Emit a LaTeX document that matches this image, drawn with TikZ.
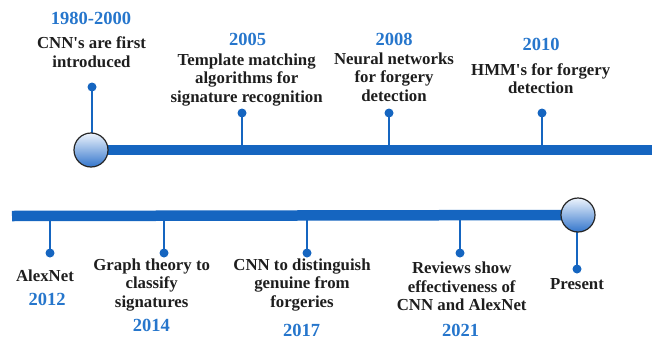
\documentclass[tikz,border=0pt]{standalone}
\usepackage{fontspec}
\setmainfont{Liberation Serif}
\definecolor{barblue}{RGB}{21,101,192}
\definecolor{yearblue}{RGB}{38,118,204}
\definecolor{txtcol}{RGB}{30,30,30}
\definecolor{balltop}{RGB}{236,243,252}
\definecolor{ballbot}{RGB}{52,118,204}
\newcommand{\apos}{\textquotesingle}
\tikzset{
  bar/.style={line width=10.5pt, barblue, line cap=butt},
  stem/.style={line width=2.6pt, barblue},
  dotnode/.style={circle, fill=barblue, inner sep=0pt, minimum size=9pt},
  ball/.style={circle, draw=black!85, line width=1.2pt, top color=balltop, bottom color=ballbot, minimum size=34pt, inner sep=0pt},
  yeartxt/.style={anchor=base, inner sep=0pt, text=yearblue, font=\fontsize{18.5}{22}\selectfont\bfseries},
  evtxt/.style={anchor=north, inner sep=0pt, align=center, text=txtcol, font=\fontsize{16.8}{18.5}\selectfont\bfseries}
}
\begin{document}
\begin{tikzpicture}[x=1pt,y=-1pt]
\useasboundingbox (0,0) rectangle (652,340);
% coordinates
\coordinate (topend) at (652,150);
\coordinate (botstart) at (12,216);
\coordinate (p1) at (91,150);
\coordinate (p2) at (578,215);
% bars
\draw[bar] (p1) -- (topend);
\draw[bar] (botstart) -- (p2);
% dots
\node[dotnode] (d1) at (92,87) {};
\node[dotnode] (d2) at (242,113) {};
\node[dotnode] (d3) at (389,113) {};
\node[dotnode] (d4) at (542,113) {};
\node[dotnode] (d5) at (50,253) {};
\node[dotnode] (d6) at (164,253) {};
\node[dotnode] (d7) at (307,253) {};
\node[dotnode] (d8) at (460,253) {};
\node[dotnode] (d9) at (577,269) {};
% stems
\draw[stem] (d1.center) -- (d1 |- p1);
\draw[stem] (d2.center) -- (d2 |- topend);
\draw[stem] (d3.center) -- (d3 |- topend);
\draw[stem] (d4.center) -- (d4 |- topend);
\draw[stem] (d5.center) -- (d5 |- botstart);
\draw[stem] (d6.center) -- (d6 |- botstart);
\draw[stem] (d7.center) -- (d7 |- botstart);
\draw[stem] (d8.center) -- (d8 |- botstart);
\draw[stem] (d9.center) -- (d9 |- p2);
% balls on top
\node[ball] (c1) at (p1) {};
\node[ball] (c2) at (p2) {};
% years
\node[yeartxt] (y1) at (91,24) {1980-2000};
\node[yeartxt] (y2) at (247.5,45) {2005};
\node[yeartxt] (y3) at (394,45.7) {2008};
\node[yeartxt] (y4) at (541,50.7) {2010};
\node[yeartxt] (y5) at (47,305) {2012};
\node[yeartxt] (y6) at (151.3,331.7) {2014};
\node[yeartxt] (y7) at (301.7,336.5) {2017};
\node[yeartxt] (y8) at (460.7,336.5) {2021};
% event texts (north = first baseline - 12.95)
\node[evtxt] (t1) at (91.5,35.35) {\strut CNN\apos s are first\\introduced};
\node[evtxt] (t2) at (246.7,52.05) {\strut Template matching\\algorithms for\\signature recognition};
\node[evtxt] (t3) at (394,51.05) {\strut Neural networks\\for forgery\\detection};
\node[evtxt] (t4) at (540.7,62.05) {\strut HMM\apos s for forgery\\detection};
\node[evtxt] (t5) at (45,268.75) {\strut AlexNet};
\node[evtxt] (t6) at (151.7,257.05) {\strut Graph theory to\\classify\\signatures};
\node[evtxt] (t7) at (302,257.05) {\strut CNN to distinguish\\genuine from\\forgeries};
\node[evtxt] (t8) at (461.7,260.35) {\strut Reviews show\\effectiveness of\\CNN and AlexNet};
\node[evtxt] (t9) at (577,276.05) {\strut Present};
\end{tikzpicture}
\end{document}
